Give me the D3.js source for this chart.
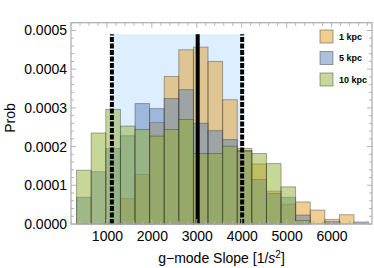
<!DOCTYPE html>
<html>
<head>
<meta charset="utf-8">
<script src="https://cdn.jsdelivr.net/npm/d3@7"></script>
<style>
  body { margin: 0; background: #fff; }
  text { font-family: "Liberation Sans", Arial, sans-serif; }
</style>
</head>
<body>
<svg id="chart" width="374" height="268"></svg>
<script>
// Data (bin width 325, densities)
const binStart = 325;
const binWidth = 325;
const series = ["1 kpc", "5 kpc", "10 kpc"];
const kpc1 = [0, 0, 0.03, 0.66, 1.28, 2.62, 3.81, 4.50, 4.57, 4.20, 3.21, 1.95, 1.55, 0.85, 0.51, 0.57, 0.36, 0.12, 0.24, 0];
const kpc5 = [0.69, 1.35, 1.95, 2.28, 3.11, 2.98, 3.24, 3.47, 2.60, 2.41, 2.18, 1.90, 1.15, 0.79, 0.69, 0.23, 0, 0.06, 0, 0.05];
const kpc10 = [1.39, 2.35, 2.96, 2.53, 2.44, 2.27, 2.44, 2.70, 1.82, 1.82, 2.01, 1.88, 1.82, 1.56, 0.96, 0.09, 0, 0, 0, 0];
const valueScale = 1e-4;
const xTicks = [1000, 2000, 3000, 4000, 5000, 6000];
const yTicks = [0, 0.0001, 0.0002, 0.0003, 0.0004, 0.0005];
// marker lines: lower, median, upper
const lowLine = 1110, midLine = 3020, highLine = 4010;
const bandTop = 0.00049;

const colors = ["#e19c24", "#5e81b5", "#8fb032"];

const svg = d3.select("#chart");
const pLeft = 71, pRight = 372, pTop = 22.7, pBottom = 224;

const x = d3.scaleLinear().domain([200, 6900]).range([pLeft, pRight]);
const y = d3.scaleLinear().domain([0, 0.00052]).range([pBottom, pTop]);

// shaded band
svg.append("rect")
    .attr("x", x(lowLine))
    .attr("y", y(bandTop))
    .attr("width", x(highLine) - x(lowLine))
    .attr("height", y(0) - y(bandTop))
    .attr("fill", "#ddeeff");

// histograms
[kpc1, kpc5, kpc10].forEach((vals, s) => {
    svg.append("g")
        .selectAll("rect")
        .data(vals.map((v, i) => ({v, i})).filter(d => d.v > 0))
        .enter()
        .append("rect")
        .attr("x", d => x(binStart + d.i * binWidth))
        .attr("width", d => x(binStart + (d.i + 1) * binWidth) - x(binStart + d.i * binWidth))
        .attr("y", d => y(d.v * valueScale))
        .attr("height", d => y(0) - y(d.v * valueScale))
        .attr("fill", colors[s])
        .attr("fill-opacity", 0.5)
        .attr("stroke", "#333")
        .attr("stroke-opacity", 0.45)
        .attr("stroke-width", 0.9);
});

// vertical markers
[[lowLine, "5,1.5"], [midLine, null], [highLine, "5,1.5"]].forEach(([v, dash]) => {
    svg.append("line")
        .attr("x1", x(v)).attr("x2", x(v))
        .attr("y1", y(0)).attr("y2", y(bandTop))
        .attr("stroke", "#000")
        .attr("stroke-width", 4)
        .attr("stroke-dasharray", dash);
});

// frame and ticks
const frameColor = "#b3b3b3";
const axisB = d3.axisBottom(x).tickValues(xTicks).tickSize(0).tickPadding(7).tickFormat(d3.format("d"));
const axisL = d3.axisLeft(y).tickValues(yTicks).tickSize(0).tickPadding(4).tickFormat(d3.format(".4f"));

const gB = svg.append("g").attr("transform", `translate(0,${pBottom})`).call(axisB);
const gL = svg.append("g").attr("transform", `translate(${pLeft},0)`).call(axisL);
[gB, gL].forEach(g => {
    g.select(".domain").remove();
    g.selectAll("text").attr("font-size", 14).attr("fill", "#000")
        .attr("font-family", "Liberation Sans, Arial, sans-serif");
});

const tickG = svg.append("g").attr("stroke", frameColor).attr("stroke-width", 1);
const xMinor = d3.range(200, 6900, 200);
xMinor.forEach(v => {
    const len = v % 1000 === 0 ? 5 : 3;
    tickG.append("line").attr("x1", x(v)).attr("x2", x(v)).attr("y1", pBottom).attr("y2", pBottom - len);
    tickG.append("line").attr("x1", x(v)).attr("x2", x(v)).attr("y1", pTop).attr("y2", pTop + len);
});
const yMinor = d3.range(0, 0.000521, 0.00002);
yMinor.forEach((v, i) => {
    const len = i % 5 === 0 ? 5 : 3;
    tickG.append("line").attr("x1", pLeft).attr("x2", pLeft + len).attr("y1", y(v)).attr("y2", y(v));
    tickG.append("line").attr("x1", pRight).attr("x2", pRight - len).attr("y1", y(v)).attr("y2", y(v));
});

svg.append("rect")
    .attr("x", pLeft).attr("y", pTop)
    .attr("width", pRight - pLeft).attr("height", pBottom - pTop)
    .attr("fill", "none")
    .attr("stroke", frameColor)
    .attr("stroke-width", 1.3);

// legend
const legend = svg.append("g");
series.forEach((name, i) => {
    const ly = 30 + i * 21.5;
    legend.append("rect")
        .attr("x", 320).attr("y", ly)
        .attr("width", 13).attr("height", 13)
        .attr("fill", colors[i]).attr("fill-opacity", 0.5)
        .attr("stroke", "#333").attr("stroke-opacity", 0.45);
    legend.append("text")
        .attr("x", 339).attr("y", ly + 9.5)
        .attr("font-size", 9).attr("font-weight", "bold")
        .text(name);
});

// axis titles
const xt = svg.append("text")
    .attr("x", (pLeft + pRight) / 2).attr("y", 263)
    .attr("text-anchor", "middle")
    .attr("font-size", 14);
xt.append("tspan").text("g\u2212mode Slope [1/");
xt.append("tspan").attr("font-style", "italic").text("s");
xt.append("tspan").attr("font-size", 10).attr("dy", -5).text("2");
xt.append("tspan").attr("dy", 5).text("]");

svg.append("text")
    .attr("transform", "translate(15,118) rotate(-90)")
    .attr("text-anchor", "middle")
    .attr("font-size", 14)
    .text("Prob");
</script>
</body>
</html>
